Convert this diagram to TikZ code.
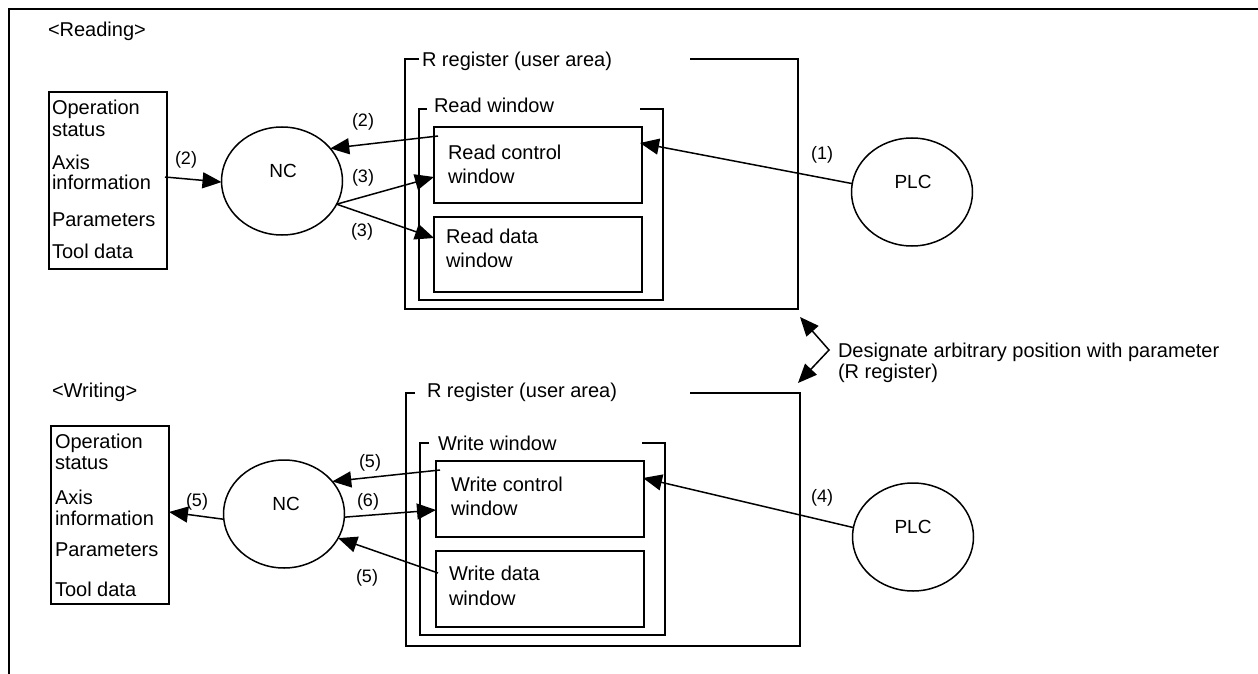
\documentclass[tikz,border=0pt]{standalone}
\usepackage{fontspec}
\setmainfont{Liberation Sans}
\usetikzlibrary{arrows.meta,shapes.geometric,calc}
\begin{document}
\begin{tikzpicture}[x=1pt,y=-1pt,
  every node/.style={inner sep=0pt, outer sep=0pt},
  txt/.style={font=\fontsize{20}{23}\selectfont, anchor=base west},
  lbl/.style={font=\fontsize{18}{20}\selectfont},
  ctext/.style={font=\fontsize{19}{20}\selectfont, anchor=base},
  box/.style={draw, line width=1.5pt, rectangle},
  oval/.style={draw, line width=1.5pt, ellipse, minimum width=121pt, minimum height=108pt},
  arr/.style={line width=1.5pt, -{Triangle[length=19pt,width=16pt]}},
  frameline/.style={line width=1.5pt},
]
\useasboundingbox (0,0) rectangle (1258,674);
\draw[line width=2pt] (9,674) -- (9,9) -- (1258,9);

% ---------- Reading ----------
\node[txt] (readt) at (48,37) {<Reading>};
\node[box, minimum width=118pt, minimum height=177pt] (b1) at (108,180.5) {};
\node[txt] (b1a) at (52,115) {Operation};
\node[txt] (b1b) at (52,137) {status};
\node[txt] (b1c) at (52,169) {Axis};
\node[txt] (b1d) at (52,189) {information};
\node[txt] (b1e) at (52,226) {Parameters};
\node[txt] (b1f) at (52,258) {Tool data};

\node[oval] (nc1) at (282,181) {};
\node[ctext] (nc1t) at (283,177) {NC};
\node[oval] (plc1) at (912,192) {};
\node[ctext] (plc1t) at (913,188) {PLC};

\draw[frameline] (419,59) -- (405,59) -- (405,309) -- (798,309) -- (798,59) -- (690,59);
\node[txt] (rr1t) at (422,67) {R register (user area)};
\draw[frameline] (427,109) -- (419,109) -- (419,300) -- (663,300) -- (663,109) -- (640,109);
\node[txt] (rw1t) at (434,113) {Read window};
\node[box, minimum width=208pt, minimum height=76pt] (rc) at (538,165) {};
\node[txt] (rca) at (448,159) {Read control};
\node[txt] (rcb) at (448,183) {window};
\node[box, minimum width=208pt, minimum height=75pt] (rd) at (538,254.5) {};
\node[txt] (rda) at (446,243) {Read data};
\node[txt] (rdb) at (446,267) {window};

\draw[arr] ([shift={(-2,-3.5)}]b1.east) -- (nc1.181);
\draw[arr] ([shift={(4,9)}]rc.north west) -- (nc1.34);
\draw[arr] (nc1.-23) -- ([shift={(0,12)}]rc.west);
\draw[arr] (nc1.-23) -- ([shift={(0,-16.5)}]rd.west);
\draw[arr] (plc1.172) -- ([shift={(-2,-22)}]rc.east);

\node[lbl] (l1) at (186,160) {(2)};
\node[lbl] (l2) at (363,122) {(2)};
\node[lbl] (l3) at (363,178) {(3)};
\node[lbl] (l4) at (362,232) {(3)};
\node[lbl] (l5) at (822,155) {(1)};

% ---------- Designate ----------
\coordinate (dA) at (800,317);
\coordinate (dB) at (829,350);
\coordinate (dC) at (798,383);
\draw[line width=1.5pt, {Triangle[length=19pt,width=16pt]}-{Triangle[length=19pt,width=16pt]}] (dA) -- (dB) -- (dC);
\node[txt] (des1) at (838,357) {Designate arbitrary position with parameter};
\node[txt] (des2) at (838,378) {(R register)};

% ---------- Writing ----------
\node[txt] (writet) at (52,397) {<Writing>};
\node[box, minimum width=118pt, minimum height=178pt] (b2) at (110,515) {};
\node[txt] (b2a) at (55,448) {Operation};
\node[txt] (b2b) at (55,469) {status};
\node[txt] (b2c) at (55,504) {Axis};
\node[txt] (b2d) at (55,525) {information};
\node[txt] (b2e) at (55,556) {Parameters};
\node[txt] (b2f) at (55,596) {Tool data};

\node[oval] (nc2) at (284,514) {};
\node[ctext] (nc2t) at (286,510) {NC};
\node[oval] (plc2) at (913,537) {};
\node[ctext] (plc2t) at (913,533) {PLC};

\draw[frameline] (415,393) -- (406,393) -- (406,646) -- (800,646) -- (800,393) -- (690,393);
\node[txt] (rr2t) at (427,397) {R register (user area)};
\draw[frameline] (429,443) -- (420,443) -- (420,635) -- (665,635) -- (665,443) -- (642,443);
\node[txt] (ww2t) at (438,450) {Write window};
\node[box, minimum width=208pt, minimum height=76pt] (wc) at (540,499) {};
\node[txt] (wca) at (451,491) {Write control};
\node[txt] (wcb) at (451,515) {window};
\node[box, minimum width=208pt, minimum height=76pt] (wd) at (540,589) {};
\node[txt] (wda) at (449,580) {Write data};
\node[txt] (wdb) at (449,605) {window};

\draw[arr] (nc2.185) -- ([shift={(0,-3)}]b2.east);
\draw[arr] ([shift={(4,9)}]wc.north west) -- (nc2.34);
\draw[arr] (nc2.-3) -- ([shift={(0,11)}]wc.west);
\draw[arr] ([shift={(2,-16)}]wd.west) -- (nc2.-24);
\draw[arr] (plc2.171) -- ([shift={(-1,-21)}]wc.east);

\node[lbl] (m1) at (197,502) {(5)};
\node[lbl] (m2) at (370,463) {(5)};
\node[lbl] (m3) at (368,502) {(6)};
\node[lbl] (m4) at (367,578) {(5)};
\node[lbl] (m5) at (822,498) {(4)};
\end{tikzpicture}
\end{document}
